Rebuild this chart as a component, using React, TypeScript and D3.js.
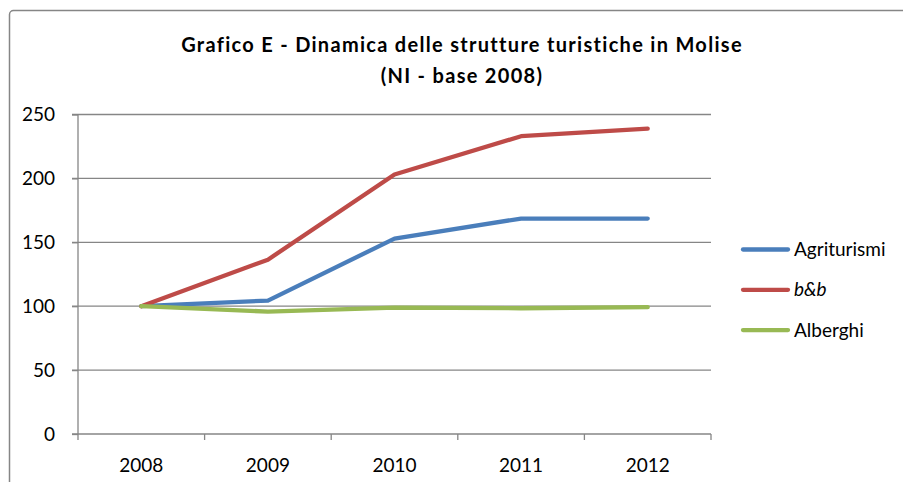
import React, { useEffect, useRef } from 'react';
import * as d3 from 'd3';

// data (NI - base 2008 = 100)
const years = ['2008', '2009', '2010', '2011', '2012'];
const agriturismi = [100, 104.4, 152.9, 168.6, 168.6];
const bnb = [100, 136.4, 203, 233, 239];
const alberghi = [100, 95.8, 98.9, 98.4, 99.2];
const yTicks = [0, 50, 100, 150, 200, 250];

const seriesNames = ['Agriturismi', 'b&b', 'Alberghi'];
const seriesColors = ['#4a7ebb', '#be4b48', '#98b954'];

const FONT = 'Lato, "Open Sans", sans-serif';

function App(): JSX.Element {
  const svgRef = useRef() as React.RefObject<SVGSVGElement>;

  useEffect(() => {
    const svg = d3.select(svgRef.current);
    svg.selectAll('*').remove();

    const width = 903;
    const height = 482;
    const margin = { top: 114.5, right: 192, bottom: 48, left: 78 };

    // chart frame
    svg.append('rect')
      .attr('x', 9.5)
      .attr('y', 10.5)
      .attr('width', width + 20)
      .attr('height', height + 20)
      .attr('rx', 4)
      .attr('fill', 'white')
      .attr('stroke', '#868686')
      .attr('stroke-width', 1.5);

    // title
    const title = svg.append('text')
      .attr('text-anchor', 'middle')
      .attr('font-family', FONT)
      .attr('font-weight', 'bold')
      .attr('font-size', 20)
      .attr('letter-spacing', 1.3)
      .style('font-variant-ligatures', 'none')
      .attr('fill', '#000');
    title.append('tspan').attr('x', 462).attr('y', 52).text('Grafico  E - Dinamica delle strutture turistiche in Molise');
    title.append('tspan').attr('x', 462).attr('y', 83).text('(NI - base 2008)');

    const xScale = d3.scaleBand()
      .domain(years)
      .range([margin.left, width - margin.right]);

    const yScale = d3.scaleLinear()
      .domain([0, 250])
      .range([height - margin.bottom, margin.top]);

    // gridlines
    svg.append('g')
      .selectAll('line')
      .data(yTicks.filter(d => d > 0))
      .join('line')
      .attr('x1', margin.left - 6)
      .attr('x2', width - margin.right)
      .attr('y1', d => yScale(d))
      .attr('y2', d => yScale(d))
      .attr('stroke', '#868686')
      .attr('stroke-width', 1.3);

    // y axis
    const yAxis = svg.append('g')
      .attr('transform', `translate(${margin.left},0)`)
      .call(d3.axisLeft(yScale).tickValues(yTicks).tickSize(6).tickPadding(17));
    yAxis.select('.domain').remove();
    yAxis.append('line')
      .attr('x1', 0).attr('x2', 0)
      .attr('y1', margin.top).attr('y2', height - margin.bottom + 6)
      .attr('stroke', '#868686').attr('stroke-width', 1.3);
    yAxis.selectAll('.tick line').attr('stroke', '#868686').attr('stroke-width', 1.3);
    yAxis.selectAll('.tick text')
      .attr('font-family', FONT)
      .attr('font-size', 19)
      .attr('fill', '#000');

    // x axis with ticks between categories
    const xAxis = svg.append('g')
      .attr('transform', `translate(0,${yScale(0)})`);
    xAxis.append('line')
      .attr('x1', margin.left - 6).attr('x2', width - margin.right)
      .attr('stroke', '#868686').attr('stroke-width', 1.3);
    xAxis.selectAll('.sep')
      .data(years.slice(1).concat(['end']))
      .join('line')
      .attr('class', 'sep')
      .attr('x1', (d, i) => margin.left + xScale.bandwidth() * (i + 1))
      .attr('x2', (d, i) => margin.left + xScale.bandwidth() * (i + 1))
      .attr('y1', 0).attr('y2', 6)
      .attr('stroke', '#868686').attr('stroke-width', 1.3);
    xAxis.selectAll('.lbl')
      .data(years)
      .join('text')
      .attr('class', 'lbl')
      .attr('x', d => (xScale(d) ?? 0) + xScale.bandwidth() / 2)
      .attr('y', 38)
      .attr('text-anchor', 'middle')
      .attr('font-family', FONT)
      .attr('font-size', 19)
      .attr('fill', '#000')
      .text(d => d);

    // lines
    const line = d3.line<number>()
      .x((d, i) => (xScale(years[i]) ?? 0) + xScale.bandwidth() / 2)
      .y(d => yScale(d));

    [agriturismi, bnb, alberghi].forEach((s, i) => {
      svg.append('path')
        .datum(s)
        .attr('fill', 'none')
        .attr('stroke', seriesColors[i])
        .attr('stroke-width', 4.3)
        .attr('stroke-linecap', 'round')
        .attr('stroke-linejoin', 'round')
        .attr('d', line);
    });

    // legend
    const legend = svg.append('g').attr('transform', 'translate(743,249.5)');
    seriesNames.forEach((name, i) => {
      const g = legend.append('g').attr('transform', `translate(0,${i * 40.3})`);
      g.append('line')
        .attr('x1', 0).attr('x2', 45)
        .attr('stroke', seriesColors[i])
        .attr('stroke-width', 4.3)
        .attr('stroke-linecap', 'round');
      g.append('text')
        .attr('x', 51)
        .attr('y', 0)
        .attr('dy', '0.35em')
        .attr('font-family', FONT)
        .attr('font-size', 19)
        .attr('font-style', name === 'b&b' ? 'italic' : 'normal')
        .attr('fill', '#000')
        .text(name);
    });
  }, []);

  return (
    <div style={{ position: 'absolute', left: 0, top: 0, width: 903, height: 482, overflow: 'hidden' }}>
      <svg ref={svgRef} width={903} height={482}></svg>
    </div>
  );
}

export default App;
